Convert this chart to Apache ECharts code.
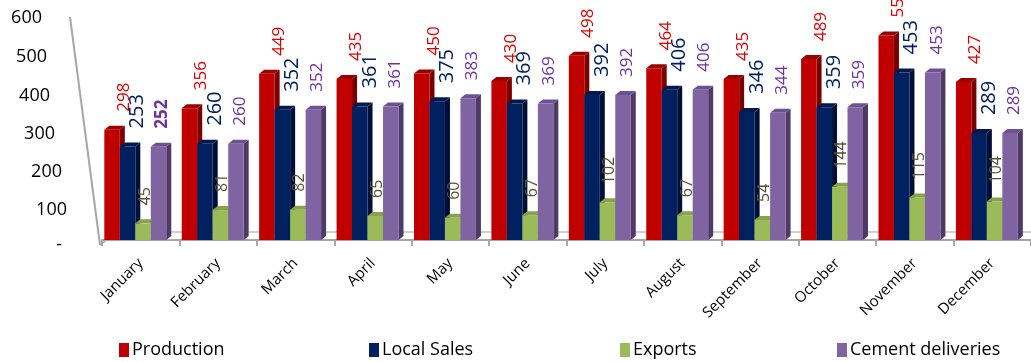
<!DOCTYPE html>
<html>
<head>
<meta charset="utf-8">
<script src="https://cdn.jsdelivr.net/npm/echarts@6/dist/echarts.min.js"></script>
<style>
html,body{margin:0;padding:0;background:#fff;}
#chart{width:1031px;height:362px;}
</style>
</head>
<body>
<div id="chart"></div>
<script>
var categories = ['January','February','March','April','May','June','July','August','September','October','November','December'];
var seriesNames = ['Production','Local Sales','Exports','Cement deliveries'];
var production = [298, 356, 449, 435, 450, 430, 498, 464, 435, 489, 553, 427];
var localSales = [253, 260, 352, 361, 375, 369, 392, 406, 346, 359, 453, 289];
var exportsData = [45, 81, 82, 65, 60, 67, 102, 67, 54, 144, 115, 104];
var cementDeliveries = [252, 260, 352, 361, 383, 369, 392, 406, 344, 359, 453, 289];
var yTicks = [0, 100, 200, 300, 400, 500, 600];

var allData = [production, localSales, exportsData, cementDeliveries];
var frontColors = ['#C00000', '#002060', '#9BBB59', '#8064A2'];
var sideColors = ['#780000', '#000F36', '#6B8739', '#4D3A66'];
var topColors = ['#9A0000', '#001A4E', '#86A34B', '#6C5290'];
var labelColors = ['#E00000', '#002060', '#55552F', '#7030A0'];
var labelSizes = [17, 20, 16, 17];
var labelDx = [12, 10, 2, 4];

var FONT = '"Open Sans", "Liberation Sans", sans-serif';

function makeRender(s) {
  return function (params, api) {
    var idx = api.value(0);
    var val = api.value(1);
    var catW = api.size([1, 0])[0];
    var base = api.coord([idx, 0]);
    var top = api.coord([idx, val]);
    var barW = catW * 0.2;
    var dx = 5, dy = 4;
    var x0 = base[0] - catW / 2 + catW * 0.03 + s * barW;
    var x1 = x0 + barW;
    var yT = top[1], yB = base[1];
    var bold = (s === 3 && idx === 0);
    return {
      type: 'group',
      children: [
        { type: 'polygon', shape: { points: [[x1, yT], [x1 + dx, yT - dy], [x1 + dx, yB - dy], [x1, yB]] },
          style: { fill: sideColors[s] } },
        { type: 'polygon', shape: { points: [[x0, yT], [x0 + dx, yT - dy], [x1 + dx, yT - dy], [x1, yT]] },
          style: { fill: topColors[s] } },
        { type: 'rect', shape: { x: x0, y: yT, width: barW, height: yB - yT },
          style: { fill: frontColors[s] } },
        { type: 'text', x: x0 + barW / 2 + labelDx[s], y: yT - dy - 14, rotation: Math.PI / 2,
          style: { text: String(val), x: 0, y: 0, align: 'left', verticalAlign: 'middle',
            fill: labelColors[s], fontSize: labelSizes[s], fontFamily: FONT,
            fontWeight: bold ? 'bold' : 'normal' } }
      ]
    };
  };
}

var series = seriesNames.map(function (name, s) {
  return {
    name: name,
    type: 'custom',
    renderItem: makeRender(s),
    encode: { x: 0, y: 1 },
    itemStyle: { color: frontColors[s] },
    data: allData[s].map(function (v, i) { return [i, v]; }),
    clip: false
  };
});

var yShift = { 0: 5, 100: 7, 200: 6, 300: 5, 400: 4, 500: 2, 600: 0 };
var yRight = { 0: 40, 100: 35, 200: 40, 300: 47, 400: 52, 500: 55, 600: 60 };
var rich = {};
yTicks.forEach(function (t) {
  rich['m' + t] = { fontSize: 18, fontFamily: FONT, color: '#000', padding: [yShift[t] * 2, yRight[t], 0, 0] };
});

var legendLefts = [114, 364, 615, 832];
var legends = seriesNames.map(function (n, i) {
  return {
    data: [n], left: legendLefts[i], top: 336, icon: 'rect', itemWidth: 10, itemHeight: 14, itemGap: 7,
    textStyle: { fontSize: 18, fontFamily: FONT, color: '#000', padding: [0, 0, 0, -2] },
    selectedMode: false
  };
});

var chart = echarts.init(document.getElementById('chart'), null, { renderer: 'canvas' });
chart.setOption({
  animation: false,
  color: frontColors,
  grid: { left: 102, right: -11, top: 18, bottom: 122, containLabel: false },
  legend: legends,
  xAxis: {
    type: 'category', data: categories, offset: 5,
    axisLine: { lineStyle: { color: '#A6A6A6', width: 2 } },
    axisTick: { show: true, length: 6, lineStyle: { color: '#A6A6A6', width: 2 } },
    axisLabel: { rotate: 45, fontSize: 15, fontFamily: FONT, color: '#000', margin: 16, interval: 0 }
  },
  yAxis: {
    type: 'value', min: 0, max: 600, interval: 100,
    axisLine: { show: false }, axisTick: { show: false }, splitLine: { show: false },
    axisLabel: {
      margin: 0,
      formatter: function (v) { return '{m' + v + '|' + (v === 0 ? '-' : v) + '}'; },
      rich: rich
    }
  },
  series: series
});

var pTop = chart.convertToPixel({ gridIndex: 0 }, [0, 600]);
var pBase = chart.convertToPixel({ gridIndex: 0 }, [0, 0]);
var catW = chart.getModel().getComponent('xAxis', 0).axis.getBandWidth();
var leftX = pBase[0] - catW / 2;
var frontY = pBase[1] + 5;
chart.setOption({
  graphic: [
    { type: 'line', shape: { x1: leftX - 32, y1: pTop[1] - 1, x2: leftX - 2, y2: frontY }, style: { stroke: '#A6A6A6', lineWidth: 2 }, z: -1 },
    { type: 'line', shape: { x1: leftX - 2, y1: frontY, x2: leftX + 15, y2: frontY - 13 }, style: { stroke: '#A6A6A6', lineWidth: 1.5 }, z: -1 },
    { type: 'line', shape: { x1: leftX + 15, y1: frontY - 13, x2: 1031, y2: frontY - 13 }, style: { stroke: '#BFBFBF', lineWidth: 1.5 }, z: -1 }
  ]
});
</script>
</body>
</html>
